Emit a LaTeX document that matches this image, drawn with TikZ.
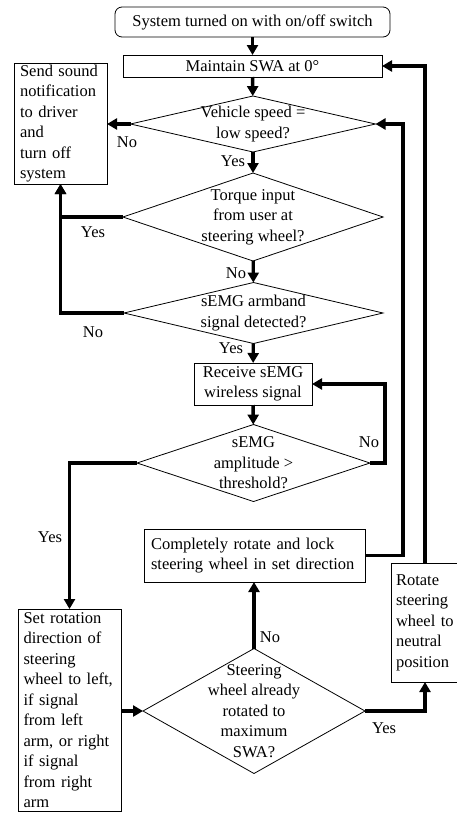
\documentclass[tikz,border=0pt]{standalone}
\usepackage{fontspec}
\setmainfont{Liberation Serif}
\usetikzlibrary{shapes.geometric,arrows.meta}

\begin{document}
\begin{tikzpicture}[x=1pt,y=-1pt,font=\fontsize{16.5}{20.5}\selectfont]
    % `block' is used for the process boxes, `decision' for the diamonds.
    % `flow' is used for the thick connectors, `answer' for Yes/No.
    \tikzstyle{block} = [draw,line width=0.8pt,inner sep=0pt,outer sep=0pt]
    \tikzstyle{textblock} = [block,align=left,anchor=north west]
    \tikzstyle{decision} = [draw,shape=diamond,line width=0.8pt,inner sep=0pt,outer sep=0pt]
    \tikzstyle{dtext} = [align=center,inner sep=0pt]
    \tikzstyle{flow} = [line width=3.4pt,-{Triangle[length=10pt,width=11pt]}]
    \tikzstyle{answer} = [inner sep=0pt]
    \useasboundingbox (0,0) rectangle (457,814);
    %
    \node[block,rounded corners=7pt,minimum width=275pt,minimum height=30pt] (start) at (252.5,22) {System turned on with on/off switch};
    \node[block,minimum width=259pt,minimum height=22pt] (maintain) at (252.5,66) {Maintain SWA at 0°};
    \node[textblock,text width=81pt,inner xsep=6pt,minimum height=121pt] (notify) at (14,63) {Send sound\\notification\\to driver\\and\\turn off\\system};
    \node[decision,minimum width=245pt,minimum height=56pt,label={[dtext]center:Vehicle speed =\\low speed?}] (speed) at (253,124) {};
    \node[decision,minimum width=260pt,minimum height=88pt,label={[dtext]center:Torque input\\from user at\\steering wheel?}] (torque) at (253,217) {};
    \node[decision,minimum width=259pt,minimum height=61pt,label={[dtext]center:sEMG armband\\signal detected?}] (armband) at (253.5,313) {};
    \node[block,align=center,minimum width=118pt,minimum height=42pt] (receive) at (253,384) {Receive sEMG\\wireless signal};
    \node[decision,minimum width=233pt,minimum height=77pt,label={[dtext]center:sEMG\\amplitude >\\threshold?}] (ampl) at (253.5,463) {};
    \node[block,align=left,text width=207pt,inner xsep=7pt,minimum height=53pt] (rotlock) at (254.5,555.5) {Completely rotate and lock\\steering wheel in set direction};
    \node[textblock,text width=92pt,inner xsep=5.5pt,minimum height=202pt] (setdir) at (18,609) {Set rotation\\direction of\\steering\\wheel to left,\\if signal\\from left\\arm, or right\\if signal\\from right\\arm};
    \node[decision,minimum width=222pt,minimum height=125pt,label={[dtext]center:Steering\\wheel already\\rotated to\\maximum\\SWA?}] (maxswa) at (254,711) {};
    \node[textblock,text width=58pt,inner xsep=5pt,minimum height=119pt] (neutral) at (391,563) {Rotate\\steering\\wheel to\\neutral\\position};
    %
    % Yes / No answers.
    \node[answer] (speedno) at (127,142) {No};
    \node[answer] (speedyes) at (233,161) {Yes};
    \node[answer] (torqueyes) at (93,232) {Yes};
    \node[answer] (torqueno) at (236,273) {No};
    \node[answer] (armno) at (93,332) {No};
    \node[answer] (armyes) at (231,348) {Yes};
    \node[answer] (amplno) at (369,442) {No};
    \node[answer] (amplyes) at (50,537) {Yes};
    \node[answer] (swano) at (270,637) {No};
    \node[answer] (swayes) at (384,728) {Yes};
    %
    % Draw connectors.
    \draw[flow] (start) -- (maintain);
    \draw[flow] (maintain) -- (speed);
    \draw[flow] (speed.west) -- (speed.west -| notify.east);
    \draw[flow] (speed) -- (torque);
    \draw[flow] (torque.west) -| (notify.south);
    \draw[flow] (armband.west) -| (notify.south);
    \draw[flow] (torque) -- (armband);
    \draw[flow] (armband) -- (receive);
    \draw[flow] (receive) -- (ampl);
    \draw[flow] (ampl.east) -- ++(15,0) |- (receive.east);
    \draw[flow] (ampl.west) -| (setdir.north);
    \draw[flow] (setdir.east |- maxswa.west) -- (maxswa.west);
    \draw[flow] (maxswa.north) -- (maxswa.north |- rotlock.south);
    \draw[flow] (rotlock.east) -- ++(38,0) |- (speed.east);
    \draw[flow] (maxswa.east) -| (neutral.south);
    \draw[flow] (neutral.north) |- (maintain.east);
\end{tikzpicture}
\end{document}
